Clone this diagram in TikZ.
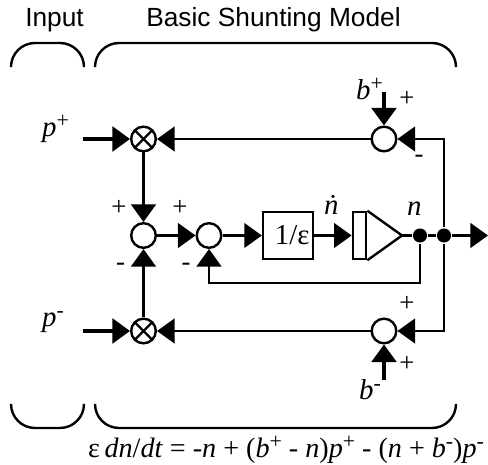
\documentclass[tikz,border=0pt]{standalone}
\usepackage{fontspec}
\setmainfont{Liberation Serif}
\setsansfont{Liberation Sans}
\usetikzlibrary{arrows.meta}
\newcommand{\sups}[1]{\raisebox{0.33em}{\upshape\fontsize{15.5}{16}\selectfont #1}}
\tikzset{
    sumnode/.style={circle,draw,fill=white,inner sep=0pt,minimum size=17.5pt},
    mulnode/.style={sumnode,path picture={
        \draw (path picture bounding box.north west) -- (path picture bounding box.south east);
        \draw (path picture bounding box.north east) -- (path picture bounding box.south west);}},
    conn/.style={-{Triangle[length=12.5pt,width=17.5pt]}},
    thickin/.style={conn,line width=2.4pt},
    bracket/.style={rounded corners=0.6cm,line width=1.7pt},
    dotnode/.style={circle,fill=black,inner sep=0pt,minimum size=10pt},
    title/.style={font=\sffamily\fontsize{18.7}{20}\selectfont,anchor=base,inner sep=0pt},
    var/.style={font=\fontsize{20.5}{22}\selectfont\itshape,anchor=base west,inner sep=0pt},
    sgn/.style={font=\fontsize{19}{20}\selectfont,inner sep=0pt}
}
\begin{document}
\begin{tikzpicture}[x=0.025cm, y=-0.025cm, line width=1.7pt]
    \useasboundingbox (0,0) rectangle (488,465);

    \node[title] (inputlabel) at (54.5,27) {Input};
    \node[title] (modellabel) at (273.5,27) {Basic Shunting Model};

    \draw[bracket] (11,67) -- (11,43) -- (84,43) -- (84,67);
    \draw[bracket] (95,67) -- (95,43) -- (456,43) -- (456,67);
    \draw[bracket] (11,404) -- (11,428) -- (84,428) -- (84,404);
    \draw[bracket] (95,404) -- (95,428) -- (456,428) -- (456,404);

    \coordinate (pplus) at (83,139);
    \coordinate (pminus) at (83,331);
    \coordinate (bplus) at (384,92);
    \coordinate (bminus) at (384,380);
    \coordinate (out) at (488,235.5);

    \node[mulnode] (mulup) at (143.5,139) {};
    \node[mulnode] (mullow) at (143.5,331) {};
    \node[sumnode] (sumup) at (384,139) {};
    \node[sumnode] (sumlow) at (384,331) {};
    \node[sumnode] (sumleft) at (143.5,235.5) {};
    \node[sumnode] (sumright) at (209,235.5) {};

    \node[draw,inner sep=0pt,minimum width=35.5pt,minimum height=33.5pt,font=\fontsize{20.5}{22}\selectfont]
        (gain) at (288,235.5) {\hspace{6pt}1/ε};
    \node[draw,inner sep=0pt,minimum width=9.5pt,minimum height=33.5pt] (ampbox) at (359.5,235.5) {};
    \coordinate (amptip) at (402,235.5);
    \draw (ampbox.north east) -- (amptip) -- (ampbox.south east);

    \node[dotnode] (dotfb) at (420,235.5) {};
    \node[dotnode] (dotout) at (444,235.5) {};

    \draw[thickin] (pplus) -- (mulup);
    \draw[thickin] (pminus) -- (mullow);
    \draw[thickin] (bplus) -- (sumup);
    \draw[thickin] (bminus) -- (sumlow);

    \draw[conn] (sumup) -- (mulup);
    \draw[conn] (sumlow) -- (mullow);
    \draw[conn] (dotout) |- (sumup);
    \draw[conn] (dotout) |- (sumlow);
    \draw[conn] (mulup) -- (sumleft);
    \draw[conn] (mullow) -- (sumleft);
    \draw[conn] (sumleft) -- (sumright);
    \draw[conn] (sumright) -- (gain);
    \draw[conn] (gain) -- (ampbox);
    \draw (amptip) -- (dotfb) -- (dotout);
    \draw[conn] (dotout) -- (out);
    \draw[conn] (dotfb) |- (209,283) -- (sumright);

    \node[var] (pplabel) at (41,137) {p\sups{+}};
    \node[var] (pmlabel) at (41,327) {p\sups{-}};
    \node[var] (bplabel) at (355,100) {b\sups{+}};
    \node[var] (bmlabel) at (358,400) {b\sups{-}};
    \node[var] (ndotlabel) at (323,215) {\.n};
    \node[var] (nlabel) at (406,216) {n};

    \node[sgn] (s1) at (119,208) {+};
    \node[sgn] (s2) at (180,208) {+};
    \node[sgn] (s3) at (407,99) {+};
    \node[sgn] (s4) at (419,159) {-};
    \node[sgn] (s5) at (120.5,267) {-};
    \node[sgn] (s6) at (186,267) {-};
    \node[sgn] (s7) at (407,304) {+};
    \node[sgn] (s8) at (407,364) {+};

    \node[font=\fontsize{20}{22}\selectfont,anchor=base,inner sep=0pt] (eqn) at (286,458)
        {ε\,\textit{dn}/\textit{dt} = -\textit{n} + (\textit{b}\sups{+} - \textit{n})\textit{p}\sups{+} - (\textit{n} + \textit{b}\sups{-})\textit{p}\sups{-}};
\end{tikzpicture}
\end{document}
